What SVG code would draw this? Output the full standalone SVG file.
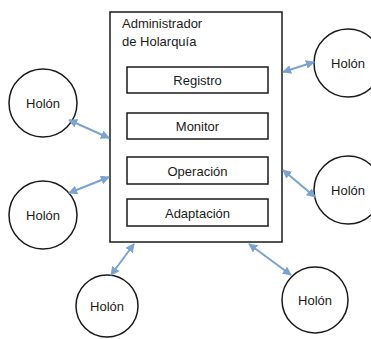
<svg xmlns="http://www.w3.org/2000/svg" width="371" height="339" viewBox="0 0 371 339">
<style>
.box{fill:#fff;stroke:#1a1a1a;stroke-width:1.5}
.holon{fill:#fff;stroke:#1a1a1a;stroke-width:1.5}
.t{font-family:"Liberation Sans",Arial,sans-serif;font-size:13px;fill:#1a1a1a}
.c{text-anchor:middle}
.link{stroke:#7ba3d0;stroke-width:2;fill:none;marker-start:url(#ah);marker-end:url(#ah)}
</style>
<defs>
<marker id="ah" viewBox="0 0 10 10" refX="9" refY="5" markerWidth="4.5" markerHeight="4.5" orient="auto-start-reverse" markerUnits="strokeWidth">
<path d="M0,0 L10,5 L0,10 z" fill="#7ba3d0"/>
</marker>
</defs>
<g id="admin">
<rect class="box" x="110" y="12" width="172" height="230"/>
<text class="t" x="122" y="28">Administrador</text>
<text class="t" x="122" y="46">de Holarquía</text>
</g>
<g id="registro">
<rect class="box" x="127" y="67" width="141" height="26"/>
<text class="t c" x="197.5" y="85">Registro</text>
</g>
<g id="monitor">
<rect class="box" x="127" y="113" width="141" height="26"/>
<text class="t c" x="197.5" y="131">Monitor</text>
</g>
<g id="operacion">
<rect class="box" x="127" y="157" width="141" height="27"/>
<text class="t c" x="197.5" y="175.5">Operación</text>
</g>
<g id="adaptacion">
<rect class="box" x="127" y="199" width="141" height="27"/>
<text class="t c" x="197.5" y="217.5">Adaptación</text>
</g>
<g id="holon1">
<circle class="holon" cx="43" cy="103" r="34"/>
<text class="t c" x="43" y="107.5">Holón</text>
</g>
<g id="holon2">
<circle class="holon" cx="43" cy="215" r="34"/>
<text class="t c" x="43" y="219.5">Holón</text>
</g>
<g id="holon3">
<circle class="holon" cx="348" cy="63" r="34"/>
<text class="t c" x="348" y="67.5">Holón</text>
</g>
<g id="holon4">
<circle class="holon" cx="348" cy="190" r="34"/>
<text class="t c" x="348" y="194.5">Holón</text>
</g>
<g id="holon5">
<circle class="holon" cx="107" cy="306" r="31"/>
<text class="t c" x="107" y="310.5">Holón</text>
</g>
<g id="holon6">
<circle class="holon" cx="315" cy="300" r="33"/>
<text class="t c" x="315" y="304.5">Holón</text>
</g>
<g id="connectors">
<line class="link" x1="69" y1="120" x2="109" y2="138"/>
<line class="link" x1="69" y1="193" x2="109" y2="177"/>
<line class="link" x1="283" y1="72" x2="314" y2="62"/>
<line class="link" x1="283" y1="170" x2="315" y2="197"/>
<line class="link" x1="134" y1="244" x2="111" y2="275"/>
<line class="link" x1="249" y1="244" x2="291" y2="275"/>
</g>
</svg>
